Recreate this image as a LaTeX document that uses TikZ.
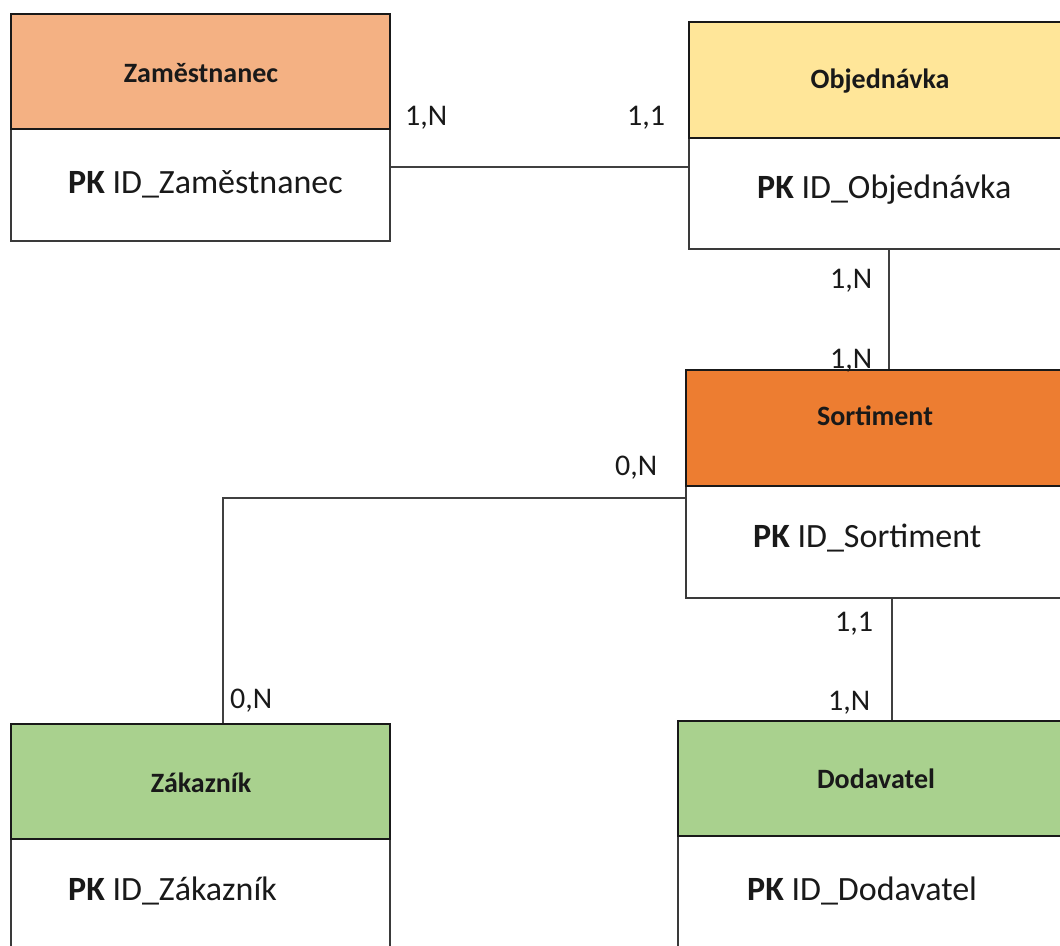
\documentclass[tikz,border=0pt]{standalone}
\usepackage{fontspec}
\setmainfont{Carlito}
\definecolor{hdrA}{HTML}{F4B183}
\definecolor{hdrB}{HTML}{FFE699}
\definecolor{hdrC}{HTML}{ED7D31}
\definecolor{hdrD}{HTML}{A9D18E}
\definecolor{lineC}{HTML}{404040}
\definecolor{frameC}{HTML}{3A3A3A}
\begin{document}
\begin{tikzpicture}[x=1pt,y=-1pt,
  hdr/.style={draw=black!90, line width=2.2pt, inner sep=0pt, anchor=north west},
  bodybox/.style={draw=frameC, line width=1.8pt, fill=white, inner sep=0pt, anchor=north west},
  ttl/.style={font=\fontsize{28}{32}\selectfont\bfseries, text=black!90, anchor=base, inner sep=0pt},
  pk/.style={font=\fontsize{34}{40}\selectfont, text=black!90, anchor=base west, inner sep=0pt},
  card/.style={font=\fontsize{30}{35}\selectfont, text=black!90, anchor=base west, inner sep=0pt},
  conn/.style={draw=lineC, line width=1.8pt}]
\useasboundingbox (0,0) rectangle (1060,945);
\clip (0,0) rectangle (1060,945);

% Zaměstnanec
\node[bodybox, minimum width=379pt, minimum height=112pt] (zamB) at (10,128) {};
\node[hdr, fill=hdrA, minimum width=379pt, minimum height=115pt] (zamH) at (10,13) {};
\node[ttl] (zamT) at (201,82) {Zaměstnanec};
\node[pk] (zamP) at (68,193) {\textbf{PK} ID\_Zaměstnanec};

% Objednávka
\node[bodybox, minimum width=384pt, minimum height=111pt] (objB) at (688,137) {};
\node[hdr, fill=hdrB, minimum width=384pt, minimum height=116pt] (objH) at (688,21) {};
\node[ttl] (objT) at (880,88) {Objednávka};
\node[pk] (objP) at (757,198) {\textbf{PK} ID\_Objednávka};

% Sortiment
\node[bodybox, minimum width=380pt, minimum height=112pt] (sortB) at (685,485) {};
\node[hdr, fill=hdrC, minimum width=380pt, minimum height=116pt] (sortH) at (685,369) {};
\node[ttl] (sortT) at (875,425) {Sortiment};
\node[pk] (sortP) at (753,547) {\textbf{PK} ID\_Sortiment};

% Zákazník
\node[bodybox, minimum width=379pt, minimum height=130pt] (zakB) at (10,838) {};
\node[hdr, fill=hdrD, minimum width=379pt, minimum height=115pt] (zakH) at (10,723) {};
\node[ttl] (zakT) at (201,792) {Zákazník};
\node[pk] (zakP) at (68,900) {\textbf{PK} ID\_Zákazník};

% Dodavatel
\node[bodybox, minimum width=398pt, minimum height=130pt] (dodB) at (677,835) {};
\node[hdr, fill=hdrD, minimum width=398pt, minimum height=115pt] (dodH) at (677,720) {};
\node[ttl] (dodT) at (876,788) {Dodavatel};
\node[pk] (dodP) at (747,900) {\textbf{PK} ID\_Dodavatel};

% connectors
\coordinate (r1) at (0,167);
\coordinate (v1) at (889,0);
\coordinate (v2) at (892,0);
\coordinate (r3) at (0,498);
\coordinate (v3) at (223,0);
\draw[conn] (zamB.east |- r1) -- (objB.west |- r1);
\draw[conn] (objB.south -| v1) -- (sortH.north -| v1);
\draw[conn] (sortB.south -| v2) -- (dodH.north -| v2);
\draw[conn] (sortB.west |- r3) -| (zakH.north -| v3);

% cardinalities
\node[card] (c1) at (405,125) {1,N};
\node[card] (c2) at (627,125) {1,1};
\node[card] (c3) at (830,288) {1,N};
\node[card] (c4) at (830,368) {1,N};
\node[card] (c5) at (615,475) {0,N};
\node[card] (c6) at (230,708) {0,N};
\node[card] (c7) at (835,631) {1,1};
\node[card] (c8) at (828,710) {1,N};
\end{tikzpicture}
\end{document}
